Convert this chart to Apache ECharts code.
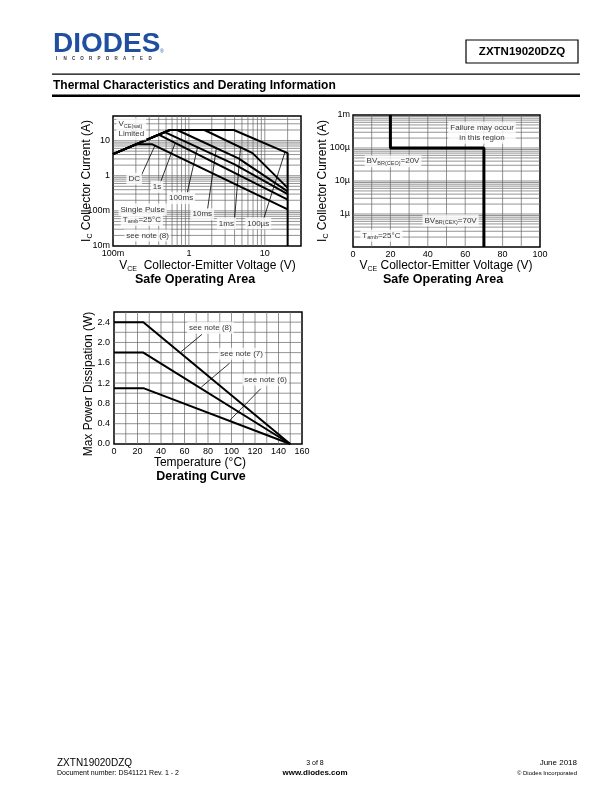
<!DOCTYPE html>
<html><head><meta charset="utf-8">
<script src="https://cdn.jsdelivr.net/npm/echarts@6/dist/echarts.min.js"></script>
<style>html,body{margin:0;padding:0;background:#fff}#c{width:612px;height:792px}</style>
</head><body><div id="c"></div>
<script>
// ---------- DATA ----------
// Safe Operating Area (left): [VCE (V), IC (A)]
const soaDC    = [[0.1,4.1],[0.2,7.8],[0.33,7.8],[20,0.11]];
const soa1s    = [[0.1,4.1],[0.4,14.7],[20,0.21]];
const soa100ms = [[0.1,4.1],[0.48,17.4],[4,2.1],[20,0.30]];
const soa10ms  = [[0.1,4.1],[0.56,20],[0.7,20],[4.5,3.1],[20,0.36]];
const soa1ms   = [[0.1,4.1],[0.56,20],[1.6,20],[6.9,4.4],[20,0.45]];
const soa100us = [[0.1,4.1],[0.56,20],[3.9,20],[20,4.4],[20,0.01]];
// Safe Operating Area (right): breakdown limit [VCE (V), IC (A)]
const bvLimit  = [[20,1e-3],[20,1e-4],[70,1e-4],[70,1e-7]];
// Derating curve: [Temperature (°C), Pmax (W)]
const derNote8 = [[0,2.4],[25,2.4],[150,0]];
const derNote7 = [[0,1.8],[25,1.8],[150,0]];
const derNote6 = [[0,1.1],[25,1.1],[150,0]];
// Tick labels
const soaXTicks  = {'-1':'100m','0':'1','1':'10'};
const soaYTicks  = {'-2':'10m','-1':'100m','0':'1','1':'10'};
const soa2YTicks = {'-3':'1m','-4':'100µ','-5':'10µ','-6':'1µ'};

// ---------- ANNOTATIONS (data coordinates) ----------
const soaLabelText = ['{n|V}{s|CE(sat)}\n{n|Limited}','{n|DC}','{n|1s}','{n|100ms}','{n|10ms}','{n|1ms}','{n|100µs}','{n|Single Pulse}','{n|T}{s|amb}{n|=25°C}','{n|see note (8)}'];
const soaLabelAt   = [[0.111,21],[0.19,0.82],[0.38,0.48],[0.79,0.23],[1.5,0.08],[3.12,0.044],[8.2,0.044],[0.246,0.11],[0.24,0.055],[0.286,0.02]];
const soaPointers  = [[[0.235,1.0],[0.36,7.5]],[[0.42,0.63],[0.66,8.5]],[[0.95,0.33],[1.3,6.4]],[[1.76,0.11],[2.3,6.1]],[[4.0,0.061],[4.8,6.7]],[[9.7,0.061],[18.5,4.8]]];
const soa2LabelText = ['{n|Failure may occur}\n{n|in this region}','{n|BV}{s|BR(CEO)}{n|=20V}','{n|BV}{s|BR(CEX)}{n|=70V}','{n|T}{s|amb}{n|=25°C}'];
const soa2LabelAt   = [[69,2.9e-4],[21.4,4.0e-5],[52.2,6.4e-7],[15.2,2.2e-7]];
const derLabelText = ['{n|see note (8)}','{n|see note (7)}','{n|see note (6)}'];
const derLabelAt   = [[82,2.29],[108.6,1.78],[129.1,1.265]];
const derPointers  = [[[74.9,2.16],[57.2,1.82]],[[98.3,1.59],[74.3,1.12]],[[124.9,1.09],[98.3,0.46]]];

// ---------- STYLE ----------
const F = '"Liberation Sans", Arial, Helvetica, sans-serif';
const rich = {
  n:{fontSize:8, lineHeight:10, fontFamily:F, color:'#000'},
  s:{fontSize:5.5, lineHeight:5, verticalAlign:'bottom', fontFamily:F, color:'#000'}
};
const titleRich = {
  n:{fontSize:12, lineHeight:14, fontFamily:F, color:'#000'},
  s:{fontSize:7, lineHeight:6, verticalAlign:'bottom', fontFamily:F, color:'#000'}
};
const GRIDC = '#666';

function logLab(map){
  return v => { const l = Math.log10(v); const e = Math.round(l); if (Math.abs(l-e) > 1e-6) return ''; return map[String(e)] || ''; };
}
function gridLines(xi, xr, yr, xs, ys){
  const data = [];
  xs.forEach(v => data.push([v, yr[0], 0]));
  ys.forEach(v => data.push([xr[0], v, 1]));
  return {type:'custom', xAxisIndex:xi, yAxisIndex:xi, silent:true, z:1, animation:false,
    encode:{x:0,y:1}, data,
    renderItem(params, api){
      const k = api.value(2);
      let p1, p2;
      if (k === 0){ p1 = api.coord([api.value(0), yr[0]]); p2 = api.coord([api.value(0), yr[1]]); }
      else { p1 = api.coord([xr[0], api.value(1)]); p2 = api.coord([xr[1], api.value(1)]); }
      return {type:'line', shape:{x1:p1[0],y1:p1[1],x2:p2[0],y2:p2[1]}, style:{stroke:GRIDC, lineWidth:0.7}};
    }};
}
function logGrid(lo, hi){
  const out = [];
  for (let e = Math.floor(Math.log10(lo)); e <= Math.ceil(Math.log10(hi)); e++){
    const d = Math.pow(10, e);
    for (let k = 1; k <= 9; k++){ const v = k*d; if (v > lo*1.0001 && v < hi*0.9999) out.push(v); }
  }
  return out;
}
function linGrid(lo, hi, st){ const out=[]; for (let v = lo+st; v < hi-1e-9; v += st) out.push(+v.toFixed(6)); return out; }
function curve(xi, data, w){
  return {type:'line', xAxisIndex:xi, yAxisIndex:xi, data, symbol:'none', showSymbol:false, silent:true, z:3,
    lineStyle:{color:'#000', width:w}, animation:false, clip:true};
}
function labels(xi, at, text, extra){
  return {type:'scatter', xAxisIndex:xi, yAxisIndex:xi, symbolSize:1, silent:true, z:6, animation:false,
    itemStyle:{color:'rgba(0,0,0,0)'},
    label:{show:true, position:'inside', backgroundColor:'#fff', padding:[1,2], rich, color:'#000', fontFamily:F, fontSize:8},
    data: at.map((p,i)=>{ const o = {value:p, label:{formatter:text[i]}}; if (extra && extra[i]) Object.assign(o.label, extra[i]); return o; })};
}
function pointers(xi, segs){
  return {type:'lines', coordinateSystem:'cartesian2d', xAxisIndex:xi, yAxisIndex:xi, silent:true, z:4, animation:false,
    lineStyle:{color:'#000', width:0.8, opacity:1}, data: segs.map(c=>({coords:c}))};
}
const axLabel = {color:'#000', fontSize:9, fontFamily:F};

function T(x, y, text, o){
  o = o || {};
  return {type:'text', x, y, rotation:o.rot||0, silent:true, z:10,
    style:{text, fill:o.fill||'#000', font:o.font||('12px '+F), align:o.align||'left', textAlign:o.align||'left',
      verticalAlign:'middle', textVerticalAlign:'middle', rich:o.rich}};
}
const incLetters = 'INCORPORATED'.split('').map((ch,i)=>T(56.5 + i*8.5, 58.5, ch, {font:'bold 4.5px '+F, fill:'#333', align:'center'}));

const chart = echarts.init(document.getElementById('c'), null, {width:612, height:792});
chart.setOption({
  animation:false,
  backgroundColor:'#fff',
  grid:[
    {left:113, top:116, width:188, height:130, show:true, borderColor:'#000', borderWidth:1.5, backgroundColor:'transparent'},
    {left:353, top:115, width:187, height:132, show:true, borderColor:'#000', borderWidth:1.5, backgroundColor:'transparent'},
    {left:114, top:312, width:188, height:132, show:true, borderColor:'#000', borderWidth:1.5, backgroundColor:'transparent'}
  ],
  xAxis:[
    {gridIndex:0, type:'log', logBase:10, min:0.1, max:30, axisLine:{show:false}, axisTick:{show:false}, splitLine:{show:false},
     axisLabel:Object.assign({formatter:logLab(soaXTicks), margin:3, showMaxLabel:false}, axLabel)},
    {gridIndex:1, type:'value', min:0, max:100, interval:20, axisLine:{show:false}, axisTick:{show:false}, splitLine:{show:false},
     axisLabel:Object.assign({margin:3}, axLabel)},
    {gridIndex:2, type:'value', min:0, max:160, interval:20, axisLine:{show:false}, axisTick:{show:false}, splitLine:{show:false},
     axisLabel:Object.assign({margin:3}, axLabel)}
  ],
  yAxis:[
    {gridIndex:0, type:'log', logBase:10, min:0.01, max:50, axisLine:{show:false}, axisTick:{show:false}, splitLine:{show:false},
     axisLabel:Object.assign({formatter:logLab(soaYTicks), margin:3, showMaxLabel:false}, axLabel)},
    {gridIndex:1, type:'log', logBase:10, min:1e-7, max:1e-3, axisLine:{show:false}, axisTick:{show:false}, splitLine:{show:false},
     axisLabel:Object.assign({formatter:logLab(soa2YTicks), margin:3}, axLabel)},
    {gridIndex:2, type:'value', min:0, max:2.6, interval:0.2, axisLine:{show:false}, axisTick:{show:false}, splitLine:{show:false},
     axisLabel:Object.assign({margin:4, showMaxLabel:false, formatter:v => { const q = v/0.4; return Math.abs(q-Math.round(q))<1e-6 ? v.toFixed(1) : ''; }}, axLabel)}
  ],
  series:[
    gridLines(0, [0.1,30], [0.01,50], logGrid(0.1,30), logGrid(0.01,50)),
    gridLines(1, [0,100], [1e-7,1e-3], linGrid(0,100,10), logGrid(1e-7,1e-3)),
    gridLines(2, [0,160], [0,2.6], linGrid(0,160,10), linGrid(0,2.6,0.2)),
    curve(0, soaDC, 2), curve(0, soa1s, 2), curve(0, soa100ms, 2), curve(0, soa10ms, 2), curve(0, soa1ms, 2), curve(0, soa100us, 2),
    curve(1, bvLimit, 3),
    curve(2, derNote8, 2), curve(2, derNote7, 2), curve(2, derNote6, 2),
    pointers(0, soaPointers), pointers(2, derPointers),
    labels(0, soaLabelAt, soaLabelText, [{align:'left'}]),
    labels(1, soa2LabelAt, soa2LabelText),
    labels(2, derLabelAt, derLabelText)
  ],
  graphic:[
    // header
    T(53, 44, 'DIODES', {font:'bold 28px '+F, fill:'#1f4f9e'}),
    T(160, 52, '®', {font:'5px '+F, fill:'#1f4f9e'}),
    ...incLetters,
    {type:'rect', shape:{x:466, y:40, width:112, height:23}, style:{fill:'none', stroke:'#000', lineWidth:1.2}, silent:true},
    T(522, 51.5, 'ZXTN19020DZQ', {font:'bold 11.5px '+F, align:'center'}),
    {type:'rect', shape:{x:52, y:73.5, width:528, height:1.2}, style:{fill:'#000'}, silent:true},
    T(53, 86, 'Thermal Characteristics and Derating Information', {font:'bold 12px '+F}),
    {type:'rect', shape:{x:52, y:94.5, width:528, height:2.5}, style:{fill:'#000'}, silent:true},
    // chart 1 titles
    T(87, 181, '{n|I}{s|C}{n| Collector Current (A)}', {rot:Math.PI/2, align:'center', rich:titleRich}),
    T(207.5, 266, '{n|V}{s|CE}{n|  Collector-Emitter Voltage (V)}', {align:'center', rich:titleRich}),
    T(195, 279.5, 'Safe Operating Area', {font:'bold 12.5px '+F, align:'center'}),
    // chart 2 titles
    T(323, 181, '{n|I}{s|C}{n| Collector Current (A)}', {rot:Math.PI/2, align:'center', rich:titleRich}),
    T(446, 266, '{n|V}{s|CE}{n| Collector-Emitter Voltage (V)}', {align:'center', rich:titleRich}),
    T(443, 279.5, 'Safe Operating Area', {font:'bold 12.5px '+F, align:'center'}),
    // chart 3 titles
    T(88.5, 384, 'Max Power Dissipation (W)', {rot:Math.PI/2, align:'center', font:'12px '+F}),
    T(200, 462.5, 'Temperature (°C)', {font:'12px '+F, align:'center'}),
    T(201, 477, 'Derating Curve', {font:'bold 12.5px '+F, align:'center'}),
    // footer
    T(57, 763, 'ZXTN19020DZQ', {font:'10px '+F}),
    T(57, 773.5, 'Document number: DS41121 Rev. 1 - 2', {font:'7px '+F}),
    T(315, 763, '3 of 8', {font:'7px '+F, align:'center'}),
    T(315, 773, 'www.diodes.com', {font:'bold 8px '+F, align:'center'}),
    T(577, 763, 'June 2018', {font:'8px '+F, align:'right'}),
    T(577, 773, '© Diodes Incorporated', {font:'6px '+F, align:'right'})
  ]
});
</script>
</body></html>
